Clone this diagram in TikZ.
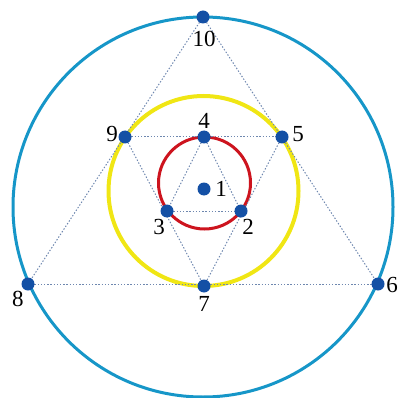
\documentclass[tikz,border=0pt]{standalone}
\usepackage{fontspec}
\setmainfont{Liberation Serif}
\definecolor{outerblue}{RGB}{22,150,200}
\definecolor{ringyellow}{RGB}{240,230,20}
\definecolor{ringred}{RGB}{205,20,30}
\definecolor{dotblue}{RGB}{20,80,165}
\definecolor{guide}{RGB}{110,135,175}
\begin{document}
\begin{tikzpicture}[x=1pt,y=-1pt,
  pt/.style={circle,fill=dotblue,inner sep=0pt,minimum size=13pt},
  lbl/.style={font=\fontsize{23}{23}\selectfont,inner sep=0pt},
  guideline/.style={guide,line width=1pt,dash pattern=on 1.4pt off 1.8pt},
  ring/.style={line width=#1}]
\useasboundingbox (0,0) rectangle (398,398);
% coordinates
\coordinate (c10) at (203,17);
\coordinate (c8) at (28,284);
\coordinate (c6) at (378,284);
\coordinate (c9) at (125,137);
\coordinate (c5) at (282,137);
\coordinate (c7) at (204,286);
\coordinate (c4) at (204,137);
\coordinate (c3) at (167,211);
\coordinate (c2) at (241,211);
\coordinate (c1) at (204,189);
% circles
\draw[outerblue,ring=3pt] (203,207) circle[radius=190];
\draw[ringyellow,ring=4pt] (203.5,191) circle[radius=95];
\draw[ringred,ring=3pt] (204.5,183) circle[radius=46];
% guide lines
\draw[guideline] (c10) -- (c8);
\draw[guideline] (c10) -- (c6);
\draw[guideline] (c8) -- (c6);
\draw[guideline] (c9) -- (c5);
\draw[guideline] (c9) -- (c7);
\draw[guideline] (c5) -- (c7);
\draw[guideline] (c4) -- (c3);
\draw[guideline] (c4) -- (c2);
\draw[guideline] (c3) -- (c2);
% points
\foreach \p in {1,...,10} \node[pt] (n\p) at (c\p) {};
% labels
\node[lbl] (l10) at (204,39) {10};
\node[lbl] (l9) at (112,134) {9};
\node[lbl] (l4) at (204,121) {4};
\node[lbl] (l5) at (298,134) {5};
\node[lbl] (l1) at (221,189) {1};
\node[lbl] (l3) at (159,227) {3};
\node[lbl] (l2) at (248,227) {2};
\node[lbl] (l8) at (18,299) {8};
\node[lbl] (l7) at (204,304) {7};
\node[lbl] (l6) at (392,285) {6};
\end{tikzpicture}
\end{document}
